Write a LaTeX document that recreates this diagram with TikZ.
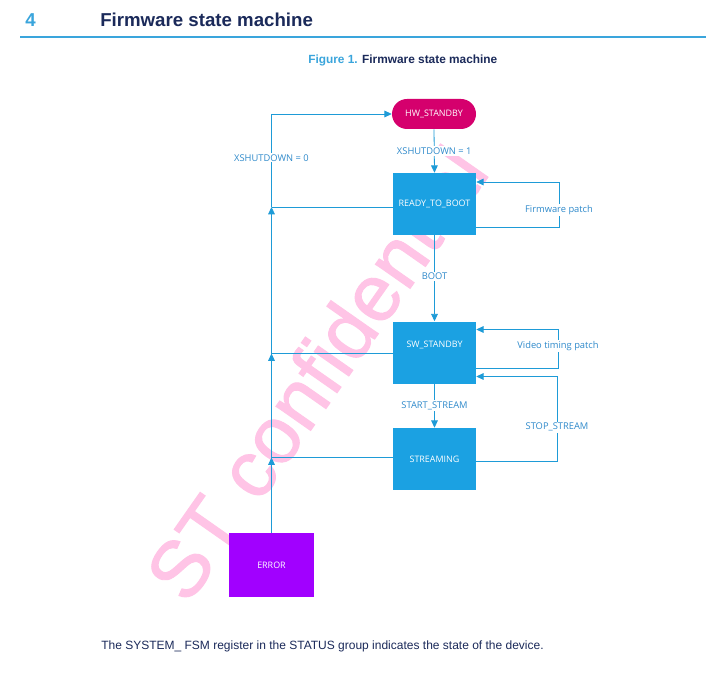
\documentclass[tikz,border=0pt]{standalone}
\usepackage{fontspec}
\setmainfont{Liberation Sans}
\newfontfamily\seg{Open Sans}
\newfontfamily\wmfont[FakeBold=1.2]{Liberation Sans}
\usetikzlibrary{arrows.meta}
\definecolor{boxblue}{HTML}{1BA1E2}
\definecolor{lineblue}{HTML}{1E9BD7}
\definecolor{lblblue}{HTML}{2F8ACB}
\definecolor{hwmag}{HTML}{D5006D}
\definecolor{errpurple}{HTML}{A100FF}
\definecolor{navy}{HTML}{1B2A5A}
\definecolor{headblue}{HTML}{3AA5DC}
\definecolor{wmpink}{HTML}{FFC4E6}
\tikzset{
  statebox/.style={rectangle, fill=boxblue, text=white, font=\seg\fontsize{6.7pt}{7pt}\selectfont,
    minimum width=62.25pt, minimum height=46.5pt, inner sep=0pt},
  conn/.style={draw=lineblue, line width=0.6pt, -{Triangle[length=5.5pt,width=5pt]}},
  plainconn/.style={draw=lineblue, line width=0.6pt},
  lbl/.style={fill=white, text=lblblue, font=\seg\fontsize{7pt}{8pt}\selectfont, inner sep=1pt}
}
\begin{document}
\begin{tikzpicture}[x=0.75pt, y=-0.75pt]
\useasboundingbox[fill=white] (0,0) rectangle (716,691);
% watermark
\node[text=wmpink, font=\wmfont\fontsize{60pt}{60pt}\selectfont, rotate=55, inner sep=0pt] (wm) at (316,373) {ST confidential};
% header
\node[anchor=base west, inner sep=0pt, text=headblue, font=\bfseries\fontsize{14pt}{16pt}\selectfont] (num) at (25,27) {4};
\node[anchor=base west, inner sep=0pt, text=navy, font=\bfseries\fontsize{14pt}{16pt}\selectfont] (title) at (100,27) {Firmware state machine};
\draw[headblue, line width=0.9pt] (20,37) -- (706,37);
\node[anchor=base west, inner sep=0pt, font=\bfseries\fontsize{8.9pt}{10pt}\selectfont] (cap) at (308,64) {\textcolor{headblue}{Figure 1.} \textcolor{navy}{Firmware state machine}};
% states
\node[rectangle, rounded corners=11.25pt, fill=hwmag, text=white, font=\seg\fontsize{6.7pt}{7pt}\selectfont,
  minimum width=63pt, minimum height=22.5pt, inner sep=0pt] (hw) at (434,114) {HW\_STANDBY};
\node[statebox] (rtb) at (434.5,204) {READY\_TO\_BOOT};
\node[statebox, text depth=12pt] (sw) at (434.5,352.5) {SW\_STANDBY};
\node[statebox] (st) at (434.5,459) {STREAMING};
\node[statebox, fill=errpurple, minimum width=63.75pt, minimum height=48pt] (err) at (271.5,565) {ERROR};
% junctions
\coordinate (c0) at (271.5,114);
\coordinate (j1) at (271.5,207);
\coordinate (j2) at (271.5,353.5);
\coordinate (j3) at (271.5,457.5);
% main vertical transitions
\draw[conn] (hw.south) -- node[lbl]{XSHUTDOWN = 1} (rtb.north);
\draw[conn] (rtb.south) -- node[lbl, pos=0.48]{BOOT} (sw.north);
\draw[conn] (sw.south) -- node[lbl, pos=0.5]{START\_STREAM} (st.north);
% left return path
\draw[plainconn] (j1 -| rtb.west) -- (j1);
\draw[plainconn] (j2 -| sw.west) -- (j2);
\draw[plainconn] (j3 -| st.west) -- (j3);
\draw[conn] (err.north) -- (j3);
\draw[conn] (j3) -- (j2);
\draw[conn] (j2) -- (j1);
\draw[conn] (j1) -- node[lbl, pos=0.53]{XSHUTDOWN = 0} (c0) -- (hw.west);
% right loops
\coordinate (f1) at (559,227);
\coordinate (f2) at (559,182);
\draw[conn] (f1 -| rtb.east) -- (f1) -- node[lbl, pos=0.38]{Firmware patch} (f2) -- (f2 -| rtb.east);
\coordinate (v1) at (558,368);
\coordinate (v2) at (558,329.5);
\draw[conn] (v1 -| sw.east) -- (v1) -- node[lbl, pos=0.56]{Video timing patch} (v2) -- (v2 -| sw.east);
\coordinate (s1) at (557,461);
\coordinate (s2) at (557,376.5);
\draw[conn] (s1 -| st.east) -- (s1) -- node[lbl, pos=0.4]{STOP\_STREAM} (s2) -- (s2 -| sw.east);
% bottom text
\node[anchor=base west, inner sep=0pt, text=navy, font=\fontsize{9pt}{11pt}\selectfont] (foot) at (101,649) {The SYSTEM\_ FSM register in the STATUS group indicates the state of the device.};
\end{tikzpicture}
\end{document}
